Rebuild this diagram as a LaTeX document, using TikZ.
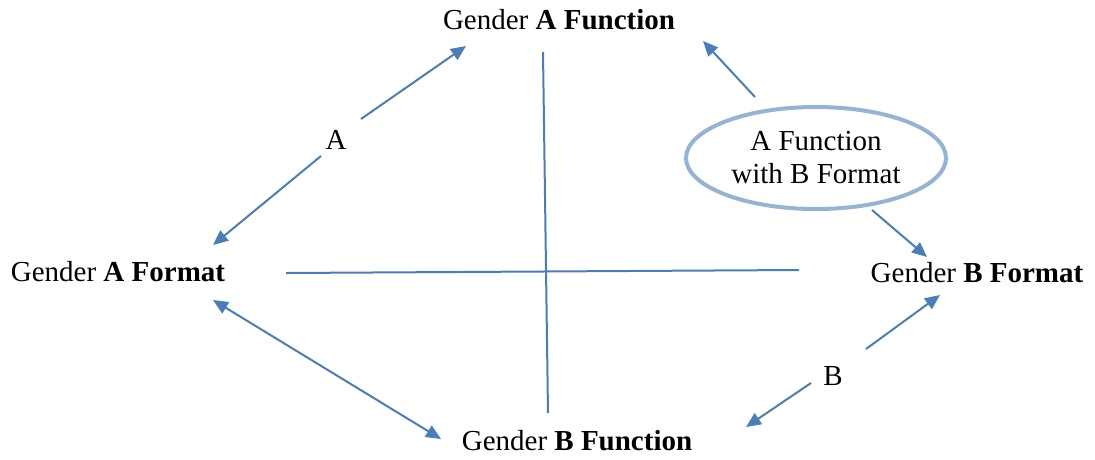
\documentclass[tikz,border=0pt]{standalone}
\usepackage{fontspec}
\setmainfont{Liberation Serif}
\usetikzlibrary{arrows.meta,shapes.geometric}
\definecolor{lineblue}{HTML}{4A7EBB}
\definecolor{ellblue}{HTML}{95B3D7}
\tikzset{
  lbl/.style={inner sep=0pt, font=\fontsize{29}{33}\selectfont},
  conn/.style={draw=lineblue, line width=2pt},
  arr/.style={conn, -{Triangle[length=15pt,width=13pt]}},
  darr/.style={conn, {Triangle[length=15pt,width=13pt]}-{Triangle[length=15pt,width=13pt]}},
  oval/.style={ellipse, draw=ellblue, line width=4pt, minimum width=260pt, minimum height=102pt, inner sep=0pt, align=center, font=\fontsize{29}{33}\selectfont}
}
\begin{document}
\begin{tikzpicture}[x=1pt,y=-1pt]
\useasboundingbox (0,0) rectangle (1095,459);
% text nodes
\node[lbl] (gaf) at (559,20) {Gender \textbf{A Function}};
\node[lbl] (gafm) at (118,272) {Gender \textbf{A Format}};
\node[lbl] (gbfm) at (977,273) {Gender \textbf{B Format}};
\node[lbl] (gbf) at (577,441) {Gender \textbf{B Function}};
\node[lbl] (la) at (336,140) {A};
\node[lbl] (lb) at (833,376) {B};
\node[oval] (ell) at (816,158) {A Function\\with B Format};
% coordinates
\coordinate (v1) at (543,52);
\coordinate (v2) at (548,413);
\coordinate (h1) at (286,273);
\coordinate (h2) at (799,270);
\coordinate (a1s) at (361,119);
\coordinate (a1e) at (466,46);
\coordinate (a2s) at (321,156);
\coordinate (a2e) at (213,245);
\coordinate (e1s) at (755,97);
\coordinate (e1e) at (703,41);
\coordinate (e2s) at (872,210);
\coordinate (e2e) at (927,257);
\coordinate (b1s) at (866,349);
\coordinate (b1e) at (940,295);
\coordinate (b2s) at (811,383);
\coordinate (b2e) at (746,427);
\coordinate (d1) at (213,300);
\coordinate (d2) at (441,439);
% lines
\draw[conn] (v1) -- (v2);
\draw[conn] (h1) -- (h2);
\draw[arr] (a1s) -- (a1e);
\draw[arr] (a2s) -- (a2e);
\draw[arr] (e1s) -- (e1e);
\draw[arr] (e2s) -- (e2e);
\draw[arr] (b1s) -- (b1e);
\draw[arr] (b2s) -- (b2e);
\draw[darr] (d1) -- (d2);
\end{tikzpicture}
\end{document}
